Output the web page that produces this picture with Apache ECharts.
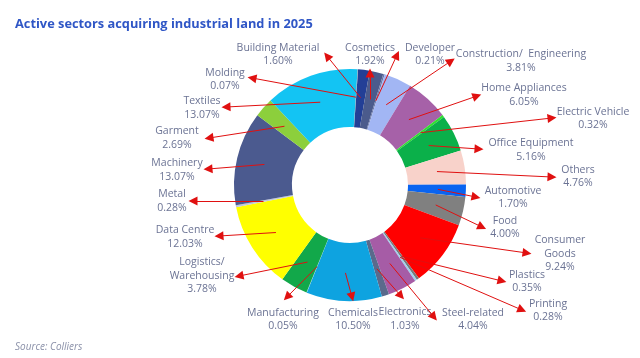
<!DOCTYPE html>
<html>
<head>
<meta charset="utf-8">
<script src="https://cdn.jsdelivr.net/npm/echarts@6/dist/echarts.min.js"></script>
<style>
html,body{margin:0;padding:0;background:#fff;}
#c{width:640px;height:358px;}
</style>
</head>
<body>
<div id="c"></div>
<script>
// ---- data ----
const sectors = ['Building Material','Cosmetics','Developer','Construction/  Engineering','Home Appliances','Electric Vehicle','Office Equipment','Others','Automotive','Food','Consumer\nGoods','Plastics','Printing','Steel-related','Electronics','Chemicals','Manufacturing','Logistics/\nWarehousing','Data Centre','Metal','Machinery','Garment','Textiles','Molding'];
const shares = [1.60,1.92,0.21,3.81,6.05,0.32,5.16,4.76,1.70,4.00,9.24,0.35,0.28,4.04,1.03,10.50,0.05,3.78,12.03,0.28,13.07,2.69,13.07,0.07];

// ---- styles / layout ----
const colors = ['#233f96','#4b5b8c','#6a78a8','#a2b6f4','#a661a8','#2ee02e','#0bb04a','#f8d2ca','#0a64f0','#808080','#ff0000','#7a7a7a','#9fd3ee','#a65ca6','#5a6a8c','#0ea3e0','#7fd2f0','#12a84a','#ffff00','#c0c8dc','#4b5a8f','#8ccf3c','#13c4f3','#7a9ab0'];
const labelPos = [[278,54.5],[370,54.5],[430,54.5],[521,61],[524,95],[593,118.5],[531,150],[578,176.5],[513,197.5],[505,227.5],[560,254],[527,281.5],[548,310.5],[473,319.5],[405,319],[353,319.5],[283,319.5],[202,276],[185,237],[172,201],[177,170],[177,138],[202,108],[225,79.5]];
const arrowTips = [[327,56],[370,73],[397,55],[451,61],[477,96],[552,118],[479,149],[552,177],[476,197],[482,227],[527,253],[502,281],[522,310],[434,317],[401,296],[352,297],[287,297],[239,276],[219,236],[193,201],[208,169],[209,138],[226,107],[252,78]];
const CX = 350, CY = 185, R_IN = 58, R_OUT = 116, OFFSET_DEG = 4, R_LINE = 88;

// arrow start points computed from the pie geometry (slice mid-angle)
const total = shares.reduce((a,b)=>a+b,0);
let cum = 0;
const arrowData = shares.map((v,i)=>{
  const mid = (cum + v/2)/total;
  cum += v;
  const th = (OFFSET_DEG + mid*360) * Math.PI/180;
  const sx = CX + R_LINE*Math.sin(th);
  const sy = CY - R_LINE*Math.cos(th);
  return {coords:[[sx,sy], arrowTips[i]]};
});

const chart = echarts.init(document.getElementById('c'), null, {renderer:'canvas'});
chart.setOption({
  animation:false,
  backgroundColor:'#ffffff',
  title:[{
    text:'Active sectors acquiring industrial land in 2025',
    left:10, top:13,
    textStyle:{fontFamily:'Open Sans', fontSize:12.8, fontWeight:'bold', color:'#2f56c6'}
  },{
    text:'Source: Colliers',
    left:10, top:337,
    textStyle:{fontFamily:'Open Sans', fontSize:10, fontStyle:'italic', fontWeight:'normal', color:'#8a90a8'}
  }],
  grid:{left:0,right:0,top:0,bottom:0},
  xAxis:{type:'value',min:0,max:640,show:false},
  yAxis:{type:'value',min:0,max:358,inverse:true,show:false},
  series:[{
    type:'pie',
    center:[CX,CY],
    radius:[R_IN,R_OUT],
    startAngle:90-OFFSET_DEG,
    clockwise:true,
    avoidLabelOverlap:false,
    itemStyle:{borderWidth:0},
    label:{
      show:true,
      position:'outside',
      fontFamily:'Open Sans',
      fontSize:10.5,
      lineHeight:13.5,
      color:'#6b7394',
      align:'center',
      formatter:p=>p.name+'\n'+p.value.toFixed(2)+'%'
    },
    labelLine:{show:false},
    labelLayout:function(params){
      const p = labelPos[params.dataIndex];
      return {x:p[0], y:p[1], align:'center', verticalAlign:'middle'};
    },
    emphasis:{disabled:true},
    data:sectors.map((n,i)=>({name:n, value:shares[i], itemStyle:{color:colors[i]}}))
  },{
    type:'lines',
    coordinateSystem:'cartesian2d',
    z:5,
    symbol:['none','triangle'],
    symbolSize:9,
    lineStyle:{color:'#e01010', width:1, opacity:1, curveness:0},
    itemStyle:{color:'#e01010'},
    silent:true,
    data:arrowData
  }]
});
</script>
</body>
</html>
